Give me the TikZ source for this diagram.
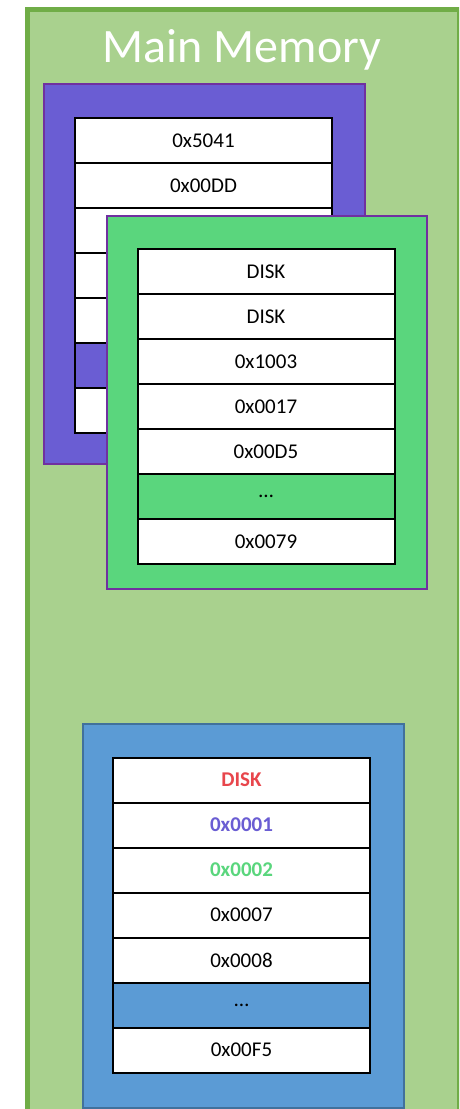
\documentclass[tikz,border=0pt]{standalone}
\usepackage{fontspec}
\setmainfont{Carlito}
\usetikzlibrary{positioning}

\definecolor{memfill}{HTML}{A9D18E}
\definecolor{memline}{HTML}{70AD47}
\definecolor{procA}{HTML}{6A5DD3}
\definecolor{procB}{HTML}{5AD67D}
\definecolor{edgeAB}{HTML}{7030A0}
\definecolor{procC}{HTML}{5B9BD5}
\definecolor{edgeC}{HTML}{41719C}
\definecolor{diskred}{HTML}{E8464C}

\begin{document}
\begin{tikzpicture}[x=1pt,y=-1pt,node distance=45pt,on grid,
    cell/.style={draw,line width=2pt,fill=white,minimum width=257pt,
                 minimum height=45pt,inner sep=0pt,
                 font=\fontsize{21}{25}\selectfont},
    frame/.style={draw,line width=1.5pt,inner sep=0pt,anchor=north west}]
    \useasboundingbox (0,0) rectangle (459,1109);
    \clip (0,0) rectangle (459,1109);

    % main memory
    \node[frame,fill=memfill,draw=memline,line width=5pt,
          minimum width=432pt,minimum height=1120pt] (mem) at (25,7) {};
    \node[text=white,anchor=base,font=\fontsize{48}{56}\selectfont]
          (title) at (242,62) {Main Memory};

    % page table of the first process (mostly hidden)
    \node[frame,fill=procA,draw=edgeAB,minimum width=321pt,minimum height=380pt]
          (ptA) at (43,83) {};
    \node[cell] (a1) at (203.5,140.5) {0x5041};
    \node[cell] (a2) [below=of a1] {0x00DD};
    \node[cell] (a3) [below=of a2] {};
    \node[cell] (a4) [below=of a3] {};
    \node[cell] (a5) [below=of a4] {};
    \node[cell,fill=procA] (a6) [below=of a5] {};
    \node[cell] (a7) [below=of a6] {};

    % page table of the second process
    \node[frame,fill=procB,draw=edgeAB,minimum width=320pt,minimum height=373pt]
          (ptB) at (106,215) {};
    \node[cell] (b1) at (266,271.5) {DISK};
    \node[cell] (b2) [below=of b1] {DISK};
    \node[cell] (b3) [below=of b2] {0x1003};
    \node[cell] (b4) [below=of b3] {0x0017};
    \node[cell] (b5) [below=of b4] {0x00D5};
    \node[cell,fill=procB] (b6) [below=of b5] {…};
    \node[cell] (b7) [below=of b6] {0x0079};

    % outer page table
    \node[frame,fill=procC,draw=edgeC,minimum width=321pt,minimum height=384pt]
          (ptC) at (82,723) {};
    \node[cell,text=diskred,font=\fontsize{21}{25}\selectfont\bfseries]
          (c1) at (241.5,780) {DISK};
    \node[cell,text=procA,font=\fontsize{21}{25}\selectfont\bfseries]
          (c2) [below=of c1] {0x0001};
    \node[cell,text=procB,font=\fontsize{21}{25}\selectfont\bfseries]
          (c3) [below=of c2] {0x0002};
    \node[cell] (c4) [below=of c3] {0x0007};
    \node[cell] (c5) [below=of c4] {0x0008};
    \node[cell,fill=procC] (c6) [below=of c5] {…};
    \node[cell] (c7) [below=of c6] {0x00F5};
\end{tikzpicture}
\end{document}
